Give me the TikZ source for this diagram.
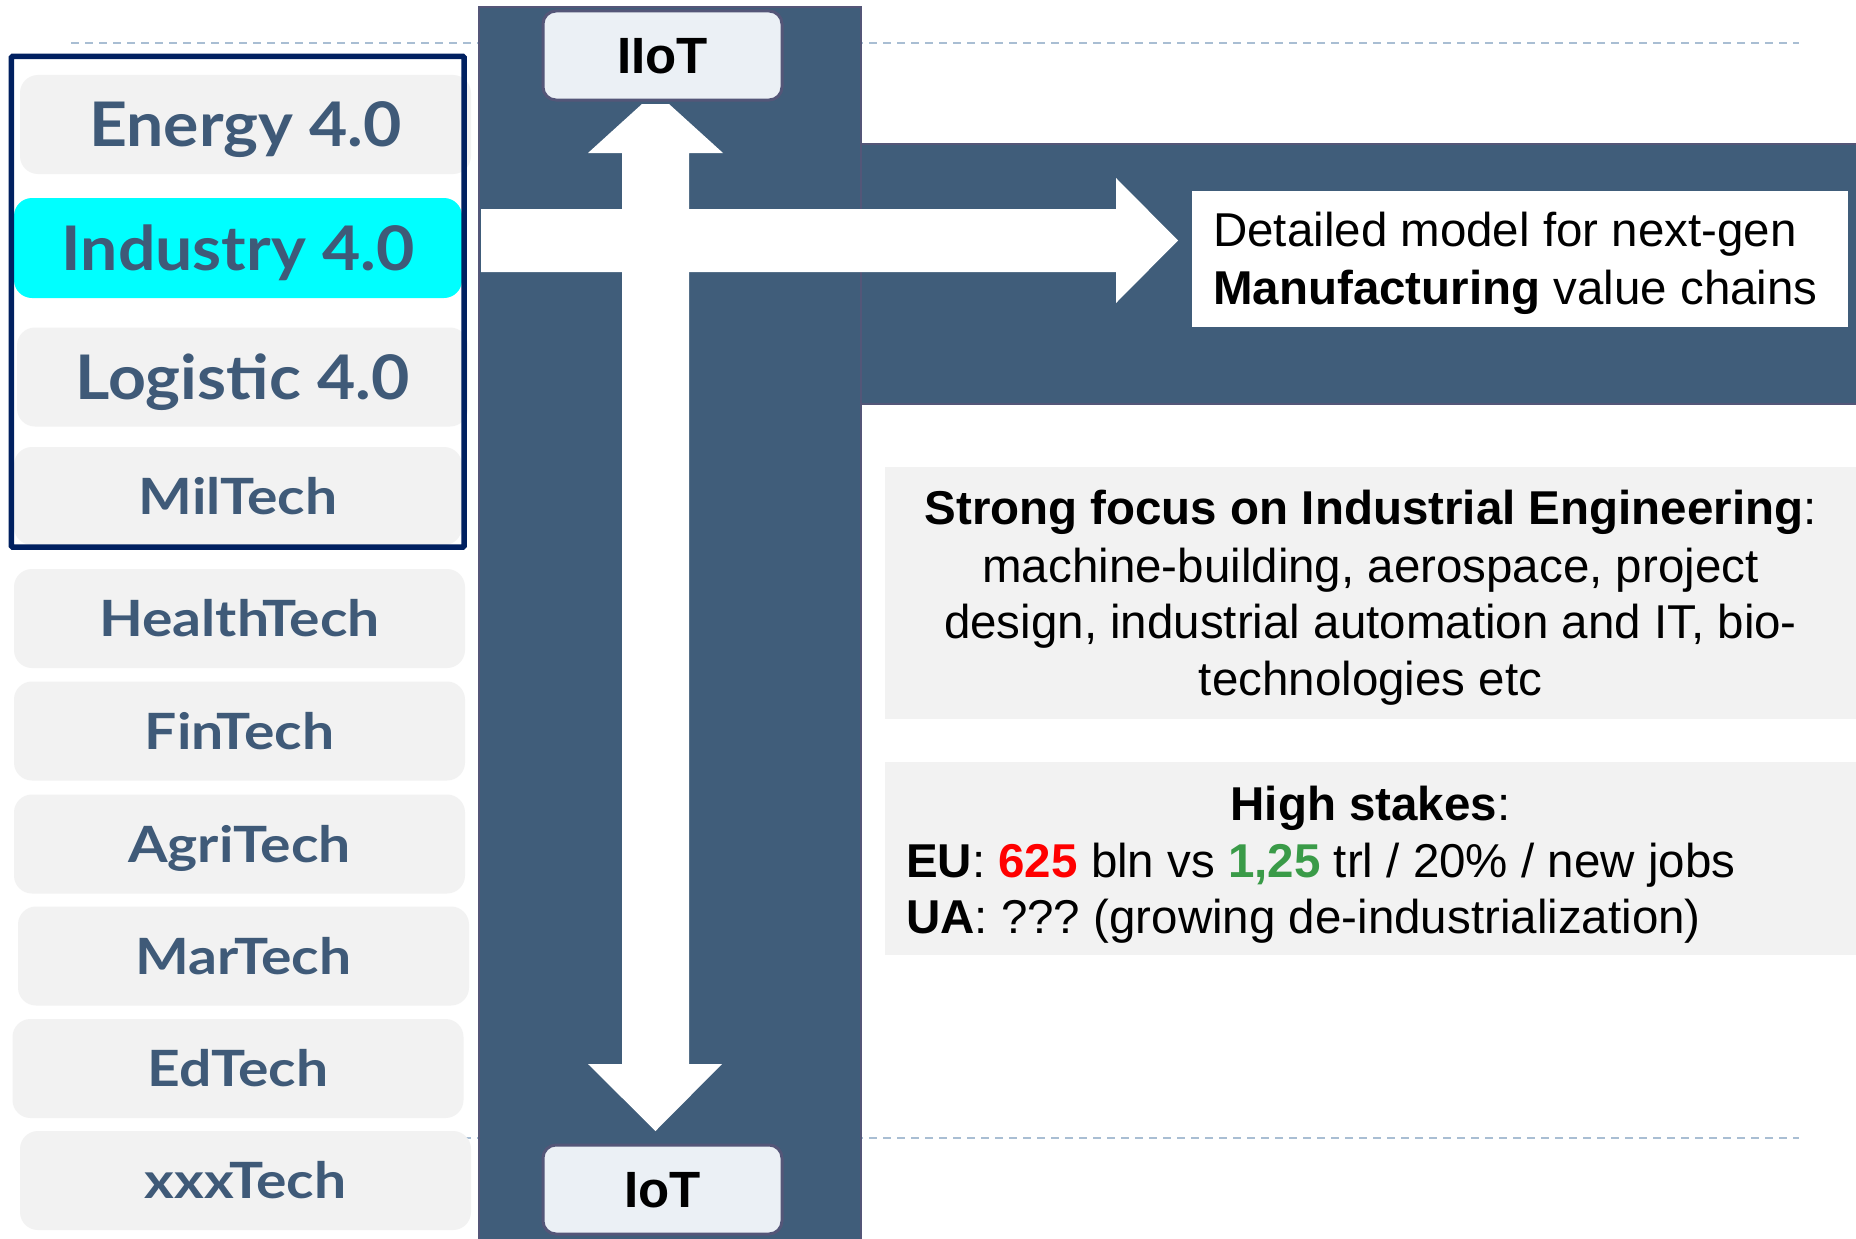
\documentclass[tikz,border=0pt]{standalone}
\usepackage{fontspec}
\setmainfont{Liberation Sans}
\newfontfamily\latobig{Lato}[FakeStretch=1.075]
\newfontfamily\latosmall{Lato}[FakeStretch=1.14]
\definecolor{colblue}{RGB}{64,93,122}
\definecolor{bordcol}{RGB}{84,86,120}
\definecolor{navyf}{RGB}{0,32,96}
\definecolor{boxgray}{RGB}{242,242,242}
\definecolor{iotfill}{RGB}{235,240,245}
\definecolor{dashcol}{RGB}{169,190,211}
\definecolor{txtblue}{RGB}{63,90,120}
\definecolor{numgreen}{RGB}{58,155,72}
\definecolor{cyanf}{RGB}{0,255,255}
\frenchspacing
\begin{document}
\begin{tikzpicture}[x=1pt,y=-1pt,
  techbox/.style={rectangle, rounded corners=18pt, fill=boxgray, text=txtblue, inner sep=0pt, text depth=0pt, minimum width=451pt, minimum height=99pt},
  bigtech/.style={techbox, font=\latobig\bfseries\fontsize{61.5}{70}\selectfont, text height=44pt},
  smalltech/.style={techbox, font=\latosmall\bfseries\fontsize{50}{60}\selectfont, text height=36pt},
  iotbox/.style={rectangle, rounded corners=13pt, fill=iotfill, draw=bordcol, line width=3pt, minimum width=239pt, minimum height=89pt, inner sep=0pt, text depth=0pt, text height=36.5pt, font=\bfseries\fontsize{51}{60}\selectfont},
  rtext/.style={inner sep=0pt, font=\fontsize{47.5}{57}\selectfont\frenchspacing},
  dashline/.style={draw=dashcol, line width=2.7pt, dash pattern=on 7.5pt off 6.5pt},
  panel/.style={fill=colblue, draw=bordcol, line width=2.5pt},
  graypanel/.style={rectangle, fill=boxgray, inner sep=0pt},
]
\useasboundingbox (0,0) rectangle (1856,1239);
\fill[white] (0,0) rectangle (1856,1239);

% dashed guide lines
\coordinate (d1a) at (71,43);
\coordinate (d1b) at (1799,43);
\coordinate (d2a) at (71,1138);
\coordinate (d2b) at (1799,1138);
\draw[dashline] (d1a) -- (d1b);
\draw[dashline] (d2a) -- (d2b);

% dark column and band
\path[panel] (479,7) rectangle (861,1248);
\path[panel] (861,144) rectangle (1866,404);

% white block arrows
\fill[white] (642,104) -- (669,104) -- (723,153) -- (689,153) -- (689,1064) -- (722,1064) -- (655.5,1131) -- (588,1064) -- (622,1064) -- (622,153) -- (588,153) -- cycle;
\fill[white] (481,209) -- (1116,209) -- (1116,178) -- (1178,240.5) -- (1116,303) -- (1116,272) -- (481,272) -- cycle;

% IIoT / IoT
\node[iotbox] (iiot) at (662.5,55.5) {IIoT};
\node[iotbox] (iot) at (662.5,1189.5) {IoT};

% left column boxes
\node[bigtech] (energy) at (245.5,124.5) {Energy 4.0};
\node[bigtech, fill=cyanf, minimum width=448pt, minimum height=100pt] (industry) at (238,248) {Industry 4.0};
\node[bigtech] (logistic) at (242.5,377) {Logistic 4.0};
\node[smalltech, minimum width=448pt, minimum height=98pt] (miltech) at (238,496) {MilTech};
\node[smalltech] (health) at (239.5,618.5) {HealthTech};
\node[smalltech] (fin) at (239.5,731) {FinTech};
\node[smalltech] (agri) at (239.5,844) {AgriTech};
\node[smalltech] (mar) at (243.5,956) {MarTech};
\node[smalltech] (ed) at (238,1068.5) {EdTech};
\node[smalltech] (xxx) at (245.5,1180.5) {xxxTech};

% navy frame
\draw[navyf, line width=5.5pt, rounded corners=1.5pt] (11.3,56.3) rectangle (464.2,547.2);

% white box with text
\node[rectangle, fill=white, inner sep=0pt, minimum width=656pt, minimum height=136pt] (wbox) at (1520,259) {};
\node[rtext, anchor=base west] (w1) at (1213,246) {Detailed model for next-gen};
\node[rtext, anchor=base west] (w2) at (1213,304) {\textbf{Manufacturing} value chains};

% gray panels
\node[graypanel, minimum width=971pt, minimum height=252pt] (g1) at (1370.5,593) {};
\node[graypanel, minimum width=971pt, minimum height=193pt] (g2) at (1370.5,858.5) {};

\node[rtext, anchor=base] (s1) at (1370.5,524) {\textbf{Strong focus on Industrial Engineering}:};
\node[rtext, anchor=base] (s2) at (1370.5,582) {machine-building, aerospace, project};
\node[rtext, anchor=base] (s3) at (1370.5,638) {design, industrial automation and IT, bio-};
\node[rtext, anchor=base] (s4) at (1370.5,695) {technologies etc};

\node[rtext, anchor=base] (h1) at (1370.5,820) {\textbf{High stakes}:};
\node[rtext, anchor=base west] (h2) at (906,877) {\textbf{EU}: \textcolor{red}{\textbf{625}} bln vs \textcolor{numgreen}{\textbf{1,25}} trl / 20\% / new jobs};
\node[rtext, anchor=base west] (h3) at (906,933) {\textbf{UA}: ??? (growing de-industrialization)};
\end{tikzpicture}
\end{document}
